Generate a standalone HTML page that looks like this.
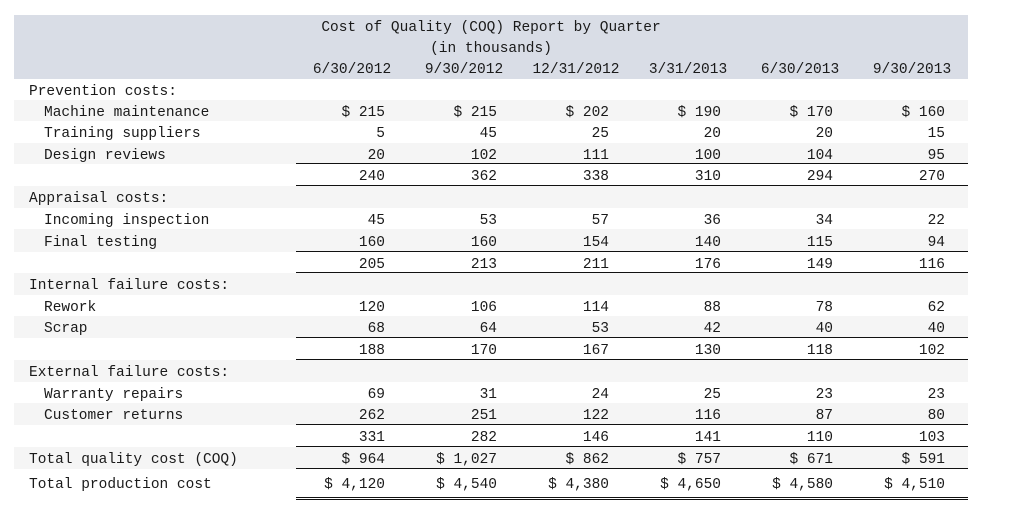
<!DOCTYPE html>
<html><head><meta charset="utf-8">
<style>
body{margin:0;width:1023px;height:532px;background:#fff;position:relative;overflow:hidden;font-family:"Liberation Mono",monospace;font-size:14.5px;color:#1a1a1a;}
.a{position:absolute;white-space:pre;}
#hdr{position:absolute;left:14px;top:15px;width:954px;height:64px;background:#d9dde6;}
</style></head>
<body>
<div id="hdr"></div>
<div class="a" style="left:14px;width:954px;top:20px;text-align:center">Cost of Quality (COQ) Report by Quarter</div>
<div class="a" style="left:14px;width:954px;top:41px;text-align:center">(in thousands)</div>
<div id="root"></div>
<script>
const quarters=["6/30/2012","9/30/2012","12/31/2012","3/31/2013","6/30/2013","9/30/2013"];
const labels=["Prevention costs:","Machine maintenance","Training suppliers","Design reviews","","Appraisal costs:","Incoming inspection","Final testing","","Internal failure costs:","Rework","Scrap","","External failure costs:","Warranty repairs","Customer returns","","Total quality cost (COQ)","Total production cost"];
const indent=[0,1,1,1,0,0,1,1,0,0,1,1,0,0,1,1,0,0,0];
const values=[null,
["$ 215","$ 215","$ 202","$ 190","$ 170","$ 160"],
["5","45","25","20","20","15"],
["20","102","111","100","104","95"],
["240","362","338","310","294","270"],
null,
["45","53","57","36","34","22"],
["160","160","154","140","115","94"],
["205","213","211","176","149","116"],
null,
["120","106","114","88","78","62"],
["68","64","53","42","40","40"],
["188","170","167","130","118","102"],
null,
["69","31","24","25","23","23"],
["262","251","122","116","87","80"],
["331","282","146","141","110","103"],
["$ 964","$ 1,027","$ 862","$ 757","$ 671","$ 591"],
["$ 4,120","$ 4,540","$ 4,380","$ 4,650","$ 4,580","$ 4,510"]];
const tops=[79,100,121,143,164,186,208,229,252,273,295,316,338,360,382,403,425,447,469,497];
const lineAfter=[3,4,7,8,11,12,15,16,17];
const root=document.getElementById('root');
const colX=i=>296+i*112;
quarters.forEach((q,i)=>{
  const d=document.createElement('div');d.className='a';
  
  
  d.style.left=colX(i)+'px';d.style.width='112px';d.style.textAlign='center';d.style.top='62px';
  d.textContent=q;root.appendChild(d);
});
labels.forEach((lab,r)=>{
  const t=tops[r],h=tops[r+1]-t;
  if(r%2===1){const bg=document.createElement('div');bg.className='a';
    
    
    bg.style.cssText=`left:14px;width:954px;top:${t}px;height:${h}px;background:#f5f5f5;`;root.appendChild(bg);}
  const ty=t+h/2-6;
  if(lab){const d=document.createElement('div');d.className='a';
    
    
    d.style.left=(indent[r]?44:29)+'px';d.style.top=ty+'px';d.textContent=lab;root.appendChild(d);}
  if(values[r]) values[r].forEach((v,i)=>{
    const d=document.createElement('div');d.className='a';
    
    
    d.style.left=colX(i)+'px';d.style.width='89px';d.style.textAlign='right';d.style.top=ty+'px';
    d.textContent=v;root.appendChild(d);});
  if(lineAfter.includes(r)){const l=document.createElement('div');l.className='a';
    
    
    l.style.cssText=`left:296px;width:672px;top:${tops[r+1]-1}px;height:0;border-top:1.5px solid #111;`;root.appendChild(l);}
});
const dl=document.createElement('div');dl.className='a';


dl.style.cssText='left:296px;width:672px;top:497px;height:1px;border-top:1.5px solid #111;border-bottom:1.5px solid #111;';
root.appendChild(dl);
</script>
</body></html>
